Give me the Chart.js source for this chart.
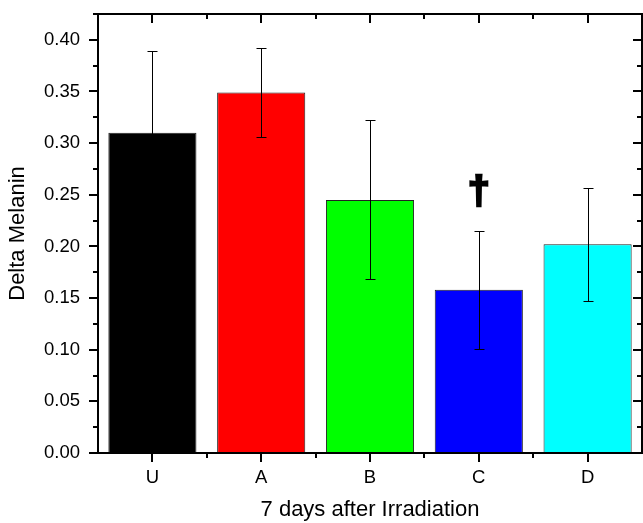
<!DOCTYPE html>
<html>
<head>
<meta charset="utf-8">
<title>Delta Melanin</title>
<script src="https://cdn.jsdelivr.net/npm/chart.js@4/dist/chart.umd.min.js"></script>
<style>
  html, body { margin: 0; padding: 0; background: #fff; }
  canvas { display: block; }
</style>
</head>
<body>
<canvas id="grafico" width="643" height="523"></canvas>
<script>
  const categorias = ['U', 'A', 'B', 'C', 'D'];
  const medias = [0.310, 0.349, 0.245, 0.158, 0.202];
  const erros = [0.079, 0.043, 0.077, 0.057, 0.055];
  const cores = ['#000000', '#ff0000', '#00ff00', '#0000ff', '#00ffff'];
  // marcador de significância (†) sobre o grupo C
  const marcaCategoria = 'C';
  const marcaValor = 0.252;
  const marcaTexto = '\u2020';

  const FONTE = "'Liberation Sans', Arial, sans-serif";

  // barras de erro simétricas, desenhadas a partir das escalas
  const barrasDeErro = {
    id: 'barrasDeErro',
    afterDatasetsDraw(chart) {
      const { ctx, scales: { x, y } } = chart;
      ctx.save();
      ctx.strokeStyle = '#000';
      ctx.lineWidth = 1;
      medias.forEach((m, i) => {
        const cx = Math.round(x.getPixelForValue(i)) + 0.5;
        const topo = Math.round(y.getPixelForValue(m + erros[i])) + 0.5;
        const base = Math.round(y.getPixelForValue(m - erros[i])) + 0.5;
        ctx.beginPath();
        ctx.moveTo(cx, topo); ctx.lineTo(cx, base);
        ctx.moveTo(cx - 5, topo); ctx.lineTo(cx + 5, topo);
        ctx.moveTo(cx - 5, base); ctx.lineTo(cx + 5, base);
        ctx.stroke();
      });
      // cruz de significância (contorno engrossa o traço, como no original)
      const mx = x.getPixelForValue(categorias.indexOf(marcaCategoria));
      const my = y.getPixelForValue(marcaValor);
      ctx.fillStyle = '#000';
      ctx.lineWidth = 2.5;
      ctx.lineJoin = 'miter';
      ctx.font = `bold 39px ${FONTE}`;
      ctx.textAlign = 'center';
      ctx.textBaseline = 'middle';
      ctx.fillText(marcaTexto, mx, my);
      ctx.strokeText(marcaTexto, mx, my);
      ctx.restore();
    },
  };

  // moldura estilo Origin: ticks para fora (esq/baixo) e para dentro (topo/dir)
  const moldura = {
    id: 'moldura',
    afterDraw(chart) {
      const { ctx, chartArea: a, scales: { x, y } } = chart;
      ctx.save();
      ctx.strokeStyle = '#000';
      ctx.lineWidth = 2;
      ctx.strokeRect(a.left, a.top, a.right - a.left, a.bottom - a.top);
      ctx.beginPath();
      y.ticks.forEach((t) => {
        const py = Math.round(y.getPixelForValue(t.value));
        const maior = Math.round(t.value * 1000) % 50 === 0;
        const len = maior ? 9 : 5;
        ctx.moveTo(a.left - len, py); ctx.lineTo(a.left, py);
        ctx.moveTo(a.right, py); ctx.lineTo(a.right - len, py);
      });
      const passo = (a.right - a.left) / categorias.length;
      categorias.forEach((c, i) => {
        const px = Math.round(x.getPixelForValue(i));
        ctx.moveTo(px, a.bottom); ctx.lineTo(px, a.bottom + 9);
        ctx.moveTo(px, a.top); ctx.lineTo(px, a.top + 9);
      });
      for (let i = 1; i < categorias.length; i++) {
        const px = Math.round(a.left + passo * i);
        ctx.moveTo(px, a.bottom); ctx.lineTo(px, a.bottom + 5);
        ctx.moveTo(px, a.top); ctx.lineTo(px, a.top + 5);
      }
      ctx.stroke();
      ctx.restore();
    },
  };

  new Chart(document.getElementById('grafico'), {
    type: 'bar',
    data: {
      labels: categorias,
      datasets: [{
        data: medias,
        backgroundColor: cores,
        borderColor: '#222',
        borderWidth: 1,
        borderSkipped: false,
        categoryPercentage: 1,
        barPercentage: 0.81,
      }],
    },
    options: {
      responsive: false,
      animation: false,
      events: [],
      layout: { padding: { top: 14, right: 1, bottom: 0, left: 0 } },
      plugins: { legend: { display: false }, tooltip: { enabled: false } },
      scales: {
        x: {
          grid: { display: false, drawTicks: false, tickLength: 0 },
          border: { display: false },
          ticks: { color: '#000', font: { family: FONTE, size: 18.5 }, padding: 14, maxRotation: 0 },
          title: {
            display: true, text: '7 days after Irradiation', color: '#000',
            font: { family: FONTE, size: 22 }, padding: { top: 0, bottom: 0 },
          },
          afterFit: (s) => { s.height = 70; s.paddingLeft = 0; s.paddingRight = 0; },
        },
        y: {
          min: 0,
          max: 0.425,
          grid: { display: false, drawTicks: false, tickLength: 0 },
          border: { display: false },
          ticks: {
            stepSize: 0.025,
            autoSkip: false,
            color: '#000',
            font: { family: FONTE, size: 18.5 },
            padding: 18,
            callback: (v) => (Math.round(v * 1000) % 50 === 0 ? v.toFixed(2) : ''),
          },
          title: {
            display: true, text: 'Delta Melanin', color: '#000',
            font: { family: FONTE, size: 22 }, padding: { top: 5, bottom: 0 },
          },
          afterFit: (s) => { s.width = 98; s.paddingTop = 0; s.paddingBottom = 0; },
        },
      },
    },
    plugins: [barrasDeErro, moldura],
  });
</script>
</body>
</html>
